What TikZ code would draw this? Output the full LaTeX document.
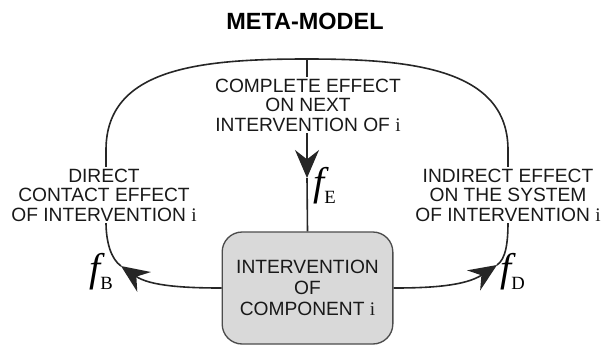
\documentclass[tikz,border=0pt]{standalone}
\usepackage{fontspec}
\setmainfont{Liberation Sans}
\newfontfamily\timesfont{Liberation Serif}
\usetikzlibrary{arrows.meta, positioning}
\tikzstyle{title} = [
	font=\fontsize{17.6}{20}\selectfont\bfseries,
	text=black
]
\tikzstyle{effect} = [
	align=center,
	fill=white,
	inner sep=1pt,
	text=black!90,
	font=\fontsize{14.4}{14.7}\selectfont
]
\tikzstyle{component} = [
	rectangle,
	rounded corners=15pt,
	minimum width=128pt,
	minimum height=84pt,
	align=center,
	draw=black!70,
	line width=1pt,
	fill=black!15,
	text=black!90,
	font=\fontsize{14.4}{16}\selectfont
]
\tikzstyle{func} = [
	inner sep=0pt,
	anchor=south west,
	text=black
]
\tikzstyle{loop} = [line width=1.2pt, draw=black!85]
\tikzstyle{arrow} = [loop, -{Stealth[length=21pt, width=18pt, inset=7pt]}]
\newcommand{\ivar}{{\timesfont i}}
\newcommand{\fn}[1]{{\timesfont\fontsize{30}{30}\selectfont\itshape f}\raisebox{-6pt}{\timesfont\fontsize{14}{14}\selectfont #1}}
\begin{document}
\begin{tikzpicture}[x=0.75pt, y=-0.75pt]
		\useasboundingbox (0,0) rectangle (610,344);

		\node (title) [title] at (305,21) {META-MODEL};
		\node (component) [component] at (307.5,288) {INTERVENTION\\OF\\COMPONENT \ivar};

		\coordinate (top) at (307,59);
		\coordinate (lefttip) at (121,266);
		\coordinate (righttip) at (497,265);
		\coordinate (midtip) at (307,178);

		% loop from the component back to itself
		\draw [arrow] (component.west) .. controls (185,288) and (150,286) .. (lefttip);
		\draw [loop] (lefttip) .. controls (111,259) and (106,242) .. (106,222) -- (106,150) .. controls (106,68) and (200,59) .. (top);
		\draw [arrow] (component.east) .. controls (430,288) and (465,286) .. (righttip);
		\draw [loop] (righttip) .. controls (506,259) and (508,242) .. (508,222) -- (508,150) .. controls (508,68) and (410,59) .. (top);
		\draw [arrow] (top) -- (midtip);
		\draw [loop] (midtip) -- (component.north);

		\node (complete) [effect] at (308,105) {COMPLETE EFFECT\\ON NEXT\\INTERVENTION OF \ivar};
		\node (direct) [effect] at (104,195) {DIRECT\\CONTACT EFFECT\\OF INTERVENTION \ivar};
		\node (indirect) [effect] at (508,195) {INDIRECT EFFECT\\ON THE SYSTEM\\OF INTERVENTION \ivar};

		\node (fe) [func] at (313,204) {\fn{E}};
		\node (fb) [func] at (89,290) {\fn{B}};
		\node (fd) [func] at (500,290) {\fn{D}};
	\end{tikzpicture}
\end{document}
